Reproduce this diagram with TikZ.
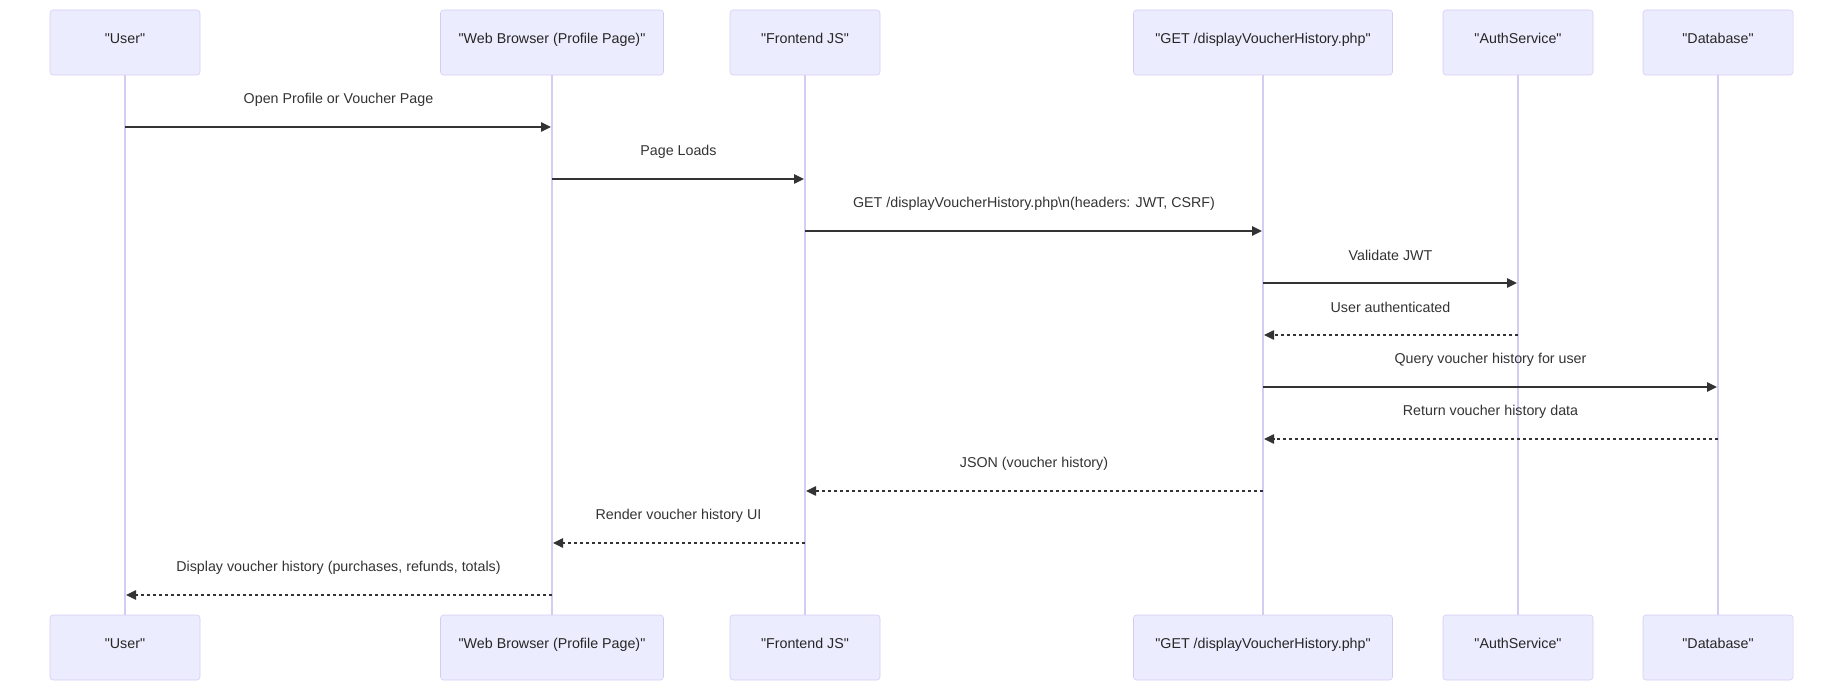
\documentclass[tikz,border=0pt]{standalone}
\usepackage{fontspec}
\setmainfont{Liberation Sans}[Ligatures=TeXOff]
\usetikzlibrary{arrows.meta}

\definecolor{actorfill}{HTML}{ECECFF}
\definecolor{actorline}{HTML}{D6CCF3}
\definecolor{msgline}{HTML}{333333}

\begin{document}
\begin{tikzpicture}[
        x=0.75pt,y=-0.75pt,
        every node/.style={font=\fontsize{10.7pt}{13pt}\selectfont},
        actor/.style={draw=actorline,fill=actorfill,rounded corners=2.25pt,
          minimum height=48.75pt,inner sep=0pt,text height=7pt,text depth=6.1pt,
          text=black!85},
        lifeline/.style={draw=actorline,line width=1.2pt},
        msg/.style={draw=msgline,line width=1.1pt,shorten >=0.75pt,
          -{Triangle[length=7.5pt,width=7pt]}},
        reply/.style={msg,dash pattern=on 2.25pt off 2.25pt},
        lbl/.style={midway,yshift=20.5pt,text=msgline}
      ]
      \useasboundingbox (0,0) rectangle (1843,691);

      % actors, top and bottom
      \node[actor,minimum width=112.5pt]  (userT) at (125,42.5)  {"User"};
      \node[actor,minimum width=167.25pt] (webT)  at (552,42.5)  {"Web Browser (Profile Page)"};
      \node[actor,minimum width=112.5pt]  (jsT)   at (805,42.5)  {"Frontend JS"};
      \node[actor,minimum width=194.25pt] (phpT)  at (1263,42.5) {"GET /displayVoucherHistory.php"};
      \node[actor,minimum width=112.5pt]  (authT) at (1518,42.5) {"AuthService"};
      \node[actor,minimum width=112.5pt]  (dbT)   at (1718,42.5) {"Database"};

      \node[actor,minimum width=112.5pt]  (userB) at (125,647.5)  {"User"};
      \node[actor,minimum width=167.25pt] (webB)  at (552,647.5)  {"Web Browser (Profile Page)"};
      \node[actor,minimum width=112.5pt]  (jsB)   at (805,647.5)  {"Frontend JS"};
      \node[actor,minimum width=194.25pt] (phpB)  at (1263,647.5) {"GET /displayVoucherHistory.php"};
      \node[actor,minimum width=112.5pt]  (authB) at (1518,647.5) {"AuthService"};
      \node[actor,minimum width=112.5pt]  (dbB)   at (1718,647.5) {"Database"};

      \foreach \a in {user,web,js,php,auth,db} \draw[lifeline] (\a T) -- (\a B);

      % message rows
      \foreach \i in {1,...,10} \coordinate (m\i) at (0,75+52*\i);

      \draw[msg]   (userT |- m1)  -- (webT |- m1)  node[lbl] {Open Profile or Voucher Page};
      \draw[msg]   (webT |- m2)   -- (jsT |- m2)   node[lbl] {Page Loads};
      \draw[msg]   (jsT |- m3)    -- (phpT |- m3)  node[lbl] {GET /displayVoucherHistory.php\textbackslash n(headers: JWT, CSRF)};
      \draw[msg]   (phpT |- m4)   -- (authT |- m4) node[lbl] {Validate JWT};
      \draw[reply] (authT |- m5)  -- (phpT |- m5)  node[lbl] {User authenticated};
      \draw[msg]   (phpT |- m6)   -- (dbT |- m6)   node[lbl] {Query voucher history for user};
      \draw[reply] (dbT |- m7)    -- (phpT |- m7)  node[lbl] {Return voucher history data};
      \draw[reply] (phpT |- m8)   -- (jsT |- m8)   node[lbl] {JSON (voucher history)};
      \draw[reply] (jsT |- m9)    -- (webT |- m9)  node[lbl] {Render voucher history UI};
      \draw[reply] (webT |- m10)  -- (userT |- m10) node[lbl] {Display voucher history (purchases, refunds, totals)};
    \end{tikzpicture}
\end{document}
